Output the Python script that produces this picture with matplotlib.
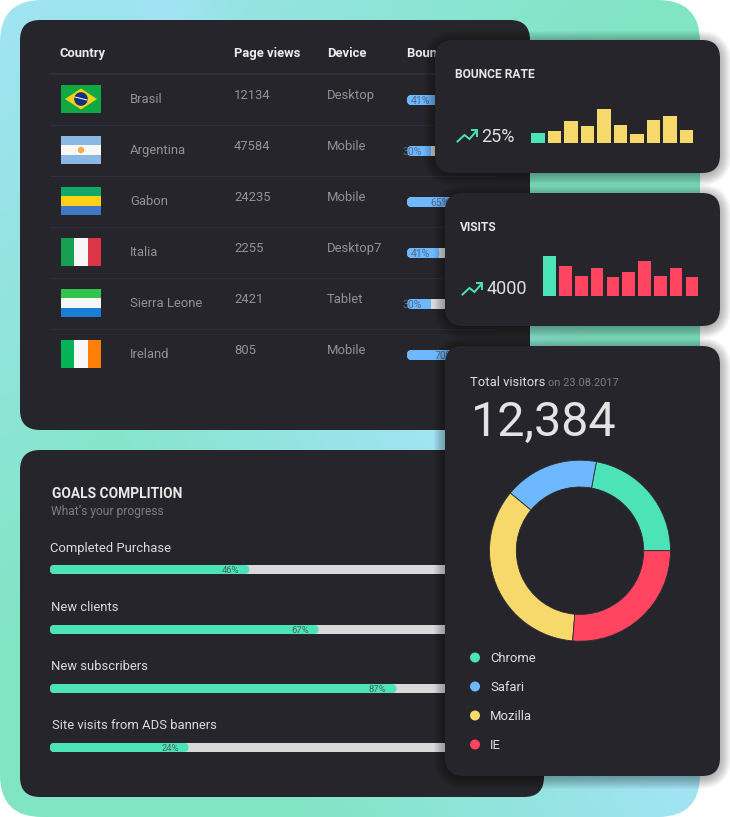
import numpy as np
import matplotlib
matplotlib.use("Agg")
import matplotlib.pyplot as plt
from matplotlib.patches import FancyBboxPatch, Rectangle, Circle, Polygon
from matplotlib.colors import LinearSegmentedColormap

W, H = 730, 817
plt.rcParams['font.family'] = ['Roboto', 'DejaVu Sans']

# ---- data ----
countries = ["Brasil", "Argentina", "Gabon", "Italia", "Sierra Leone", "Ireland"]
page_views = ["12134", "47584", "24235", "2255", "2421", "805"]
devices = ["Desktop", "Mobile", "Mobile", "Desktop7", "Tablet", "Mobile"]
bounce_pct = [41, 30, 65, 41, 30, 70]
headers = ["Country", "Page views", "Device", "Bounce rate"]

goal_names = ["Completed Purchase", "New clients", "New subscribers", "Site visits from ADS banners"]
goal_labels = ["46%", "67%", "87%", "24%"]
goal_lengths = [46, 62, 80, 32]

bounce_bars = [10, 12, 22, 17, 34, 18, 8.7, 22.7, 27.3, 13]
visit_bars = [40, 30, 20, 28, 19, 24, 35, 20, 28, 19]

browsers = ["Chrome", "Safari", "Mozilla", "IE"]
browser_share = [22.1, 16.9, 34.7, 26.3]

# ---- palette ----
CARD = "#25252b"
TEAL = "#4de3b8"
BLUE = "#6db8ff"
YELLOW = "#f6d86b"
RED = "#ff4560"
TRACK = "#d9d9d9"
LINE = "#302d3c"
browser_colors = [TEAL, BLUE, YELLOW, RED]

fig = plt.figure(figsize=(W / 100, H / 100), dpi=100, facecolor="white")


def px_axes(x0, y0, x1, y1, z):
    a = fig.add_axes([x0 / W, 1 - y1 / H, (x1 - x0) / W, (y1 - y0) / H], zorder=z)
    a.axis("off")
    a.patch.set_alpha(0)
    return a


def card(a, x0, y0, x1, y1, r, z=2):
    p = FancyBboxPatch((x0 + r, y0 + r), x1 - x0 - 2 * r, y1 - y0 - 2 * r,
                       boxstyle=f"round,pad={r},rounding_size={r}",
                       fc=CARD, ec="none", zorder=z)
    a.add_patch(p)
    return p


def shadow(a, x0, y0, x1, y1, r, z=1):
    for g in range(14, 0, -1):
        a.add_patch(FancyBboxPatch((x0 + r + 3, y0 + r + 5), x1 - x0 - 2 * r - 6, y1 - y0 - 2 * r - 6,
                                   boxstyle=f"round,pad={r + g},rounding_size={r + g}",
                                   fc="black", ec="none", alpha=0.028, zorder=z))


base = px_axes(0, 0, W, H, 0)
base.set_xlim(0, W)
base.set_ylim(H, 0)

# gradient panel: blue fading to green from the top left, a second blue band behind the cards
xx, yy = np.meshgrid(np.arange(0, 701, 4.0), np.arange(0, H + 1, 4.0))
w1 = 1 - (xx + yy) / 650
d = (xx - 450) * 0.834 - (yy - 440) * 0.553
w2 = np.where(d < 0, 1 + d / 330, 1 - d / 170)
t = np.clip(np.maximum(w1, w2), 0, 1)
cm = LinearSegmentedColormap.from_list("g", ["#81e5c4", "#a2e3f5"])
im = base.imshow(t, extent=(0, 700, H, 0), cmap=cm, vmin=0, vmax=1, aspect="auto",
                 interpolation="bilinear", zorder=0)
clip = FancyBboxPatch((42, 42), 700 - 84, H - 84, boxstyle="round,pad=42,rounding_size=42",
                      transform=base.transData, fc="none", ec="none")
base.add_patch(clip)
im.set_clip_path(clip)
base.set_xlim(0, W)
base.set_ylim(H, 0)

card(base, 20, 20, 530, 430, 20)
card(base, 20, 450, 544, 797, 20)


def T(a, x, y, s, size, color, weight="normal", ha="left", z=5):
    return a.text(x, y, s, fontsize=size * 0.72, color=color, fontweight=weight,
                  ha=ha, va="baseline", zorder=z)


# ---- table ----
for x, h in zip([60, 234, 327, 407], headers):
    T(base, x, 57, h, 13, "#ececec", "bold")

base.plot([50, 495], [74, 74], color=LINE, lw=1.5, zorder=3)
ROW = 51
for i in range(1, 6):
    y = 74 + i * ROW
    base.plot([50, 495], [y, y], color=LINE, lw=0.8, zorder=3)

for i, (c, v, d_) in enumerate(zip(countries, page_views, devices)):
    T(base, 130, 103 + i * ROW, c, 13, "#939393")
    T(base, 234, 99 + i * ROW, v, 13, "#939393")
    T(base, 327, 99 + i * ROW, d_, 13, "#939393")


def flag_bands(y, bands, vertical=False):
    x0, fw, fh = 61, 40, 28
    n = sum(b[1] for b in bands)
    pos = 0
    for col, w in bands:
        if vertical:
            base.add_patch(Rectangle((x0 + pos / n * fw, y), w / n * fw, fh, fc=col, ec="none", zorder=4))
        else:
            base.add_patch(Rectangle((x0, y + pos / n * fh), fw, w / n * fh, fc=col, ec="none", zorder=4))
        pos += w


fy = [85 + i * ROW for i in range(6)]
flag_bands(fy[0], [("#0fa843", 1)])
base.add_patch(Polygon([(65, fy[0] + 14), (81, fy[0] + 3.5), (97, fy[0] + 14), (81, fy[0] + 24.5)],
                       fc="#f3d01a", ec="none", zorder=5))
base.add_patch(Circle((81, fy[0] + 14), 6.8, fc="#16307e", ec="none", zorder=6))
base.plot([75, 87], [fy[0] + 12, fy[0] + 15], color="white", lw=0.7, zorder=7)
flag_bands(fy[1], [("#8ab8e2", 9), ("#f7f7f7", 10), ("#8ab8e2", 9)])
base.add_patch(Circle((81, fy[1] + 14), 3.2, fc="#f4ad45", ec="none", zorder=6))
flag_bands(fy[2], [("#0fa968", 9), ("#fcd116", 10), ("#3f78c6", 9)])
flag_bands(fy[3], [("#17a052", 13), ("#f7f7f7", 14), ("#dd3548", 13)], vertical=True)
flag_bands(fy[4], [("#33c24d", 9), ("#f7f7f7", 10), ("#1a7fd4", 9)])
flag_bands(fy[5], [("#03b355", 13), ("#f7f7f7", 14), ("#ff7f0a", 13)], vertical=True)

# ---- table progress bars (0-100 %) ----
tb = px_axes(407, 90, 486, 360, 1)
tb.set_xlim(0, 100)
tb.set_ylim(270, 0)
ux = 79 / 100
rows_y = [10 + i * ROW for i in range(6)]


def pill(a, y, v, h, unit, col, z, square_right=False):
    r = h / 2
    a.add_patch(FancyBboxPatch((0, y - h / 2), v, h,
                               boxstyle=f"round,pad=0,rounding_size={r / unit}",
                               mutation_aspect=unit, fc=col, ec="none", zorder=z))
    if square_right:
        a.barh(y, v / 2, left=v / 2, height=h, color=col, zorder=z)


for y, v in zip(rows_y, bounce_pct):
    pill(tb, y, 100, 10, ux, TRACK, 1, True)
    pill(tb, y, v, 10, ux, BLUE, 2, True)
    tb.text(v - 11, y + 3.6, f"{v}%", fontsize=10.5 * 0.72, color="#4f6b90",
            ha="right", va="baseline", zorder=3)

# ---- goals ----
T(base, 52, 498, "GOALS COMPLITION", 13.8, "#e8e8e8", "bold")
T(base, 51, 515, "What\u2019s your progress", 12, "#7d7d82")
gx = [50, 51, 51, 52]
gy = [552, 611, 670, 729]
for x, y, s in zip(gx, gy, goal_names):
    T(base, x, y, s, 13, "#dcdcdc")

gb = px_axes(50, 560, 483, 757, 1)
gb.set_xlim(0, 100)
gb.set_ylim(197, 0)
ug = 433 / 100
goal_y = [9.5, 69.5, 128.5, 187.5]
for y, v, lab in zip(goal_y, goal_lengths, goal_labels):
    pill(gb, y, 100, 9, ug, TRACK, 1, True)
    pill(gb, y, v, 9, ug, TEAL, 2)
    gb.text(v - 2.3, y + 3.2, lab, fontsize=9.5 * 0.72, color="#46655b",
            ha="right", va="baseline", zorder=3)

# ---- right-hand cards ----
over = px_axes(0, 0, W, H, 2)
over.set_xlim(0, W)
over.set_ylim(H, 0)
for (a0, b0, a1, b1) in [(435, 40, 720, 173), (445, 193, 720, 326), (445, 346, 720, 776)]:
    shadow(over, a0, b0, a1, b1, 18)
    card(over, a0, b0, a1, b1, 18)

T(over, 455, 78, "BOUNCE RATE", 12, "#e6e6e6", "bold")
T(over, 481.5, 142, "25%", 18, "#e0e0e0")
T(over, 460, 231, "VISITS", 12, "#e6e6e6", "bold")
T(over, 486.5, 294.5, "4000", 18, "#e0e0e0")


def trend(dx, dy):
    xs = np.array([457.5, 464.5, 469.5, 476]) + dx
    ys = np.array([141.5, 135, 139, 131.5]) + dy
    over.plot(xs, ys, color=TEAL, lw=1.4, zorder=6, solid_joinstyle="miter")
    over.plot(np.array([471.5, 477, 477]) + dx, np.array([130, 130, 135.5]) + dy,
              color=TEAL, lw=1.4, zorder=6, solid_joinstyle="miter")


trend(0, 0)
trend(5, 153)

# mini bar charts
b1 = px_axes(531.3, 100, 531.3 + 165.0, 143, 3)
b1.set_xlim(0, 10)
b1.set_ylim(0, 43)
b1.bar(np.arange(10) + 0.4, bounce_bars, width=0.8,
       color=[TEAL] + [YELLOW] * 9)

b2 = px_axes(543.3, 250, 543.3 + 158.0, 296, 3)
b2.set_xlim(0, 10)
b2.set_ylim(0, 46)
b2.bar(np.arange(10) + 0.4, visit_bars, width=0.8,
       color=[TEAL] + [RED] * 9)

# total visitors
T(over, 470, 385.7, "Total visitors", 13, "#e0e0e0")
T(over, 547.5, 385.7, "on 23.08.2017", 11, "#7d7d82")
T(over, 470.5, 436, "12,384", 48.5, "#e3e3e3")

# donut
dn = px_axes(480, 450.7, 680, 650.7, 3)
dn.pie(browser_share, colors=browser_colors, startangle=0, counterclock=True, radius=90.5,
       wedgeprops=dict(width=26.8, edgecolor="#2b2b33", linewidth=0.6))
dn.set_xlim(-100, 100)
dn.set_ylim(-100, 100)

# legend
for i, (name, col) in enumerate(zip(browsers, browser_colors)):
    yc = 657.5 + i * 29
    over.add_patch(Circle((475, yc), 5, fc=col, ec="none", zorder=6))
    T(over, 490, yc + 4.5, name, 13, "#e0e0e0")

fig.savefig("out.png", dpi=100, facecolor="white")
